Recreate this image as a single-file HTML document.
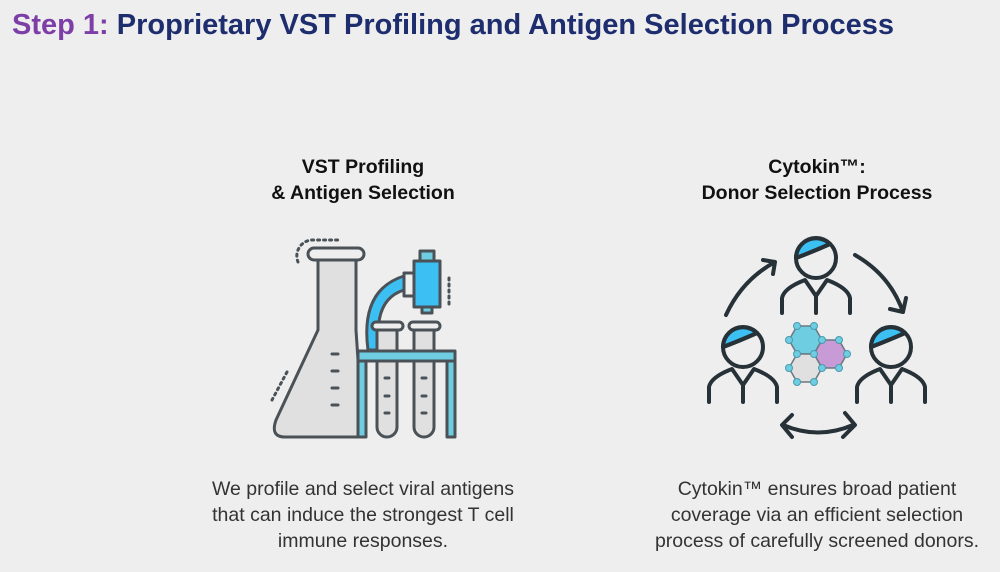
<!DOCTYPE html>
<html><head><style>
body{margin:0;width:1000px;height:572px;background:#eeeeee;font-family:"Liberation Sans",sans-serif;overflow:hidden;position:relative}
.t{position:absolute;left:12px;top:9px;font-size:29px;font-weight:bold;color:#1d2d6e;white-space:nowrap}
.t span{color:#7d3ea8}
.h{position:absolute;font-size:19.5px;font-weight:bold;color:#111;text-align:center;line-height:26px;width:360px}
.p{position:absolute;font-size:19.5px;color:#333;text-align:center;line-height:26px;width:420px}
</style></head><body>
<div class="t"><span>Step 1:</span> Proprietary VST Profiling and Antigen Selection Process</div>
<div class="h" style="left:183px;top:154px">VST Profiling<br>&amp; Antigen Selection</div>
<div class="h" style="left:637px;top:154px">Cytokin™:<br>Donor Selection Process</div>
<div class="p" style="left:153px;top:476px">We profile and select viral antigens<br>that can induce the strongest T cell<br>immune responses.</div>
<div class="p" style="left:607px;top:476px">Cytokin™ ensures broad patient<br>coverage via an efficient selection<br>process of carefully screened donors.</div>
<svg width="1000" height="572" style="position:absolute;left:0;top:0" fill="none" stroke="#4a5258" stroke-width="3" stroke-linecap="round" stroke-linejoin="round">
<path d="M298,262 A16,16 0 0 1 312,240 L338,240" stroke-dasharray="2 4"/>
<path d="M287,372 L272,400" stroke-dasharray="2 4"/>
<path d="M449,278 L449,306" stroke-dasharray="2 4"/>
<path d="M318,260 L318,330 L276,420 Q270,437 285,437 L358,437 L358,360 L356,330 L356,260 Z" fill="#e0e0e0"/>
<rect x="308" y="248" width="56" height="12" rx="6" fill="#eeeeee"/>
<path d="M332,354h6M332,371h6M332,388h6M332,405h6"/>
<path d="M368,350 Q360,290 404,276 L404,290 Q372,300 380,350 Z" fill="#3cc0f4"/>
<rect x="404" y="273" width="10" height="23" fill="#eeeeee"/>
<rect x="414" y="261" width="26" height="46" fill="#3cc0f4"/>
<rect x="420" y="251" width="14" height="10" fill="#6ecde0"/>
<rect x="422" y="307" width="10" height="6" fill="#6ecde0"/>
<path d="M377,330 L377,427 A10,10 0 0 0 397,427 L397,330" fill="#e0e0e0"/>
<path d="M414,330 L414,427 A10,10 0 0 0 434,427 L434,330" fill="#e0e0e0"/>
<rect x="372" y="322" width="31" height="8" rx="4" fill="#eeeeee"/>
<rect x="409" y="322" width="31" height="8" rx="4" fill="#eeeeee"/>
<path d="M385,378h4M385,396h4M385,413h4M422,378h4M422,396h4M422,413h4"/>
<rect x="358" y="351" width="97" height="10" fill="#6ecde0"/>
<rect x="358" y="361" width="8" height="76" fill="#6ecde0"/>
<rect x="447" y="361" width="8" height="76" fill="#6ecde0"/>
<g stroke="#263238" stroke-width="4">
<path d="M726,315 Q742,280 775,262 M763,260 L775,262 L773,274"/>
<path d="M855,255 Q890,275 903,312 M890,309 L903,312 L906,298"/>
<path d="M783,425 Q818,440 853,425 M792,415 L782,425 L792,437 M845,413 L855,425 L843,437"/>
<g id="pp">
<path d="M796,258 A20,20 0 0 1 830,244 Q812,252 796,258 Z" fill="#3cc0f4"/>
<circle cx="816" cy="258" r="20"/>
<path d="M796,258 Q812,252 830,244"/>
<path d="M782,313 L782,298 Q784,288 805,280 L816,296 L827,280 Q848,288 850,298 L850,313 M816,296 L816,313"/>
</g>
<use href="#pp" x="-73" y="89"/>
<use href="#pp" x="75" y="89"/>
</g>
<g stroke="#6b7880" stroke-width="1.5">
<polygon points="797,326 814,326 822,340 814,354 797,354 789,340" fill="#6ecde0"/>
<polygon points="822,340 839,340 847,354 839,368 822,368 814,354" fill="#c89ad6"/>
<polygon points="797,354 814,354 822,368 814,382 797,382 789,368" fill="#e0e0e0"/>
<g fill="#6ecde0" stroke="#4a9ab0" stroke-width="1"><circle cx="797" cy="326" r="3.5"/><circle cx="814" cy="326" r="3.5"/><circle cx="789" cy="340" r="3.5"/><circle cx="822" cy="340" r="3.5"/><circle cx="839" cy="340" r="3.5"/><circle cx="797" cy="354" r="3.5"/><circle cx="814" cy="354" r="3.5"/><circle cx="847" cy="354" r="3.5"/><circle cx="789" cy="368" r="3.5"/><circle cx="822" cy="368" r="3.5"/><circle cx="839" cy="368" r="3.5"/><circle cx="797" cy="382" r="3.5"/><circle cx="814" cy="382" r="3.5"/></g>
</g>
</svg>
</body></html>
